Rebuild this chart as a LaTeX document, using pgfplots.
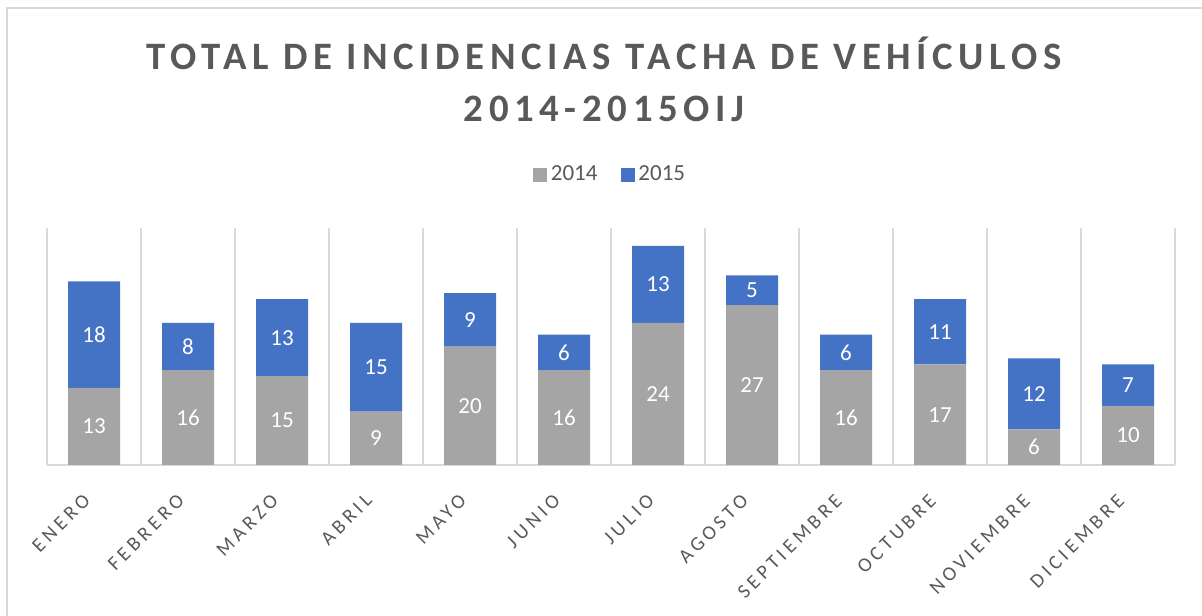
\documentclass[border=0pt]{standalone}
\usepackage{pgfplots}
\pgfplotsset{compat=1.18}
\usepackage{pgfplotstable}
\usepackage{fontspec}
\setmainfont{Carlito}
\newfontfamily\titlefont[LetterSpace=14.5]{Carlito}
\newfontfamily\lblfont[LetterSpace=20]{Carlito}
\definecolor{g14}{HTML}{A5A5A5}
\definecolor{b15}{HTML}{4472C4}
\definecolor{txt}{HTML}{595959}
\definecolor{grd}{HTML}{D9D9D9}

\pgfplotstableread{
x a b
0 13 18
1 16 8
2 15 13
3 9 15
4 20 9
5 16 6
6 24 13
7 27 5
8 16 6
9 17 11
10 6 12
11 10 7
}\data

\begin{document}
\begin{tikzpicture}
\path[use as bounding box] (0,0) rectangle (601bp,308bp);
\draw[grd, line width=1bp] (3.5bp,0) -- (3.5bp,303.75bp) -- (601bp,303.75bp);
\node[anchor=base, text=txt, inner sep=0pt, font=\titlefont\bfseries\fontsize{19.4bp}{23bp}\selectfont] at (302bp,273bp) {TOTAL DE INCIDENCIAS TACHA DE VEHÍCULOS};
\node[anchor=base, text=txt, inner sep=0pt, font=\titlefont\bfseries\fontsize{19.4bp}{23bp}\selectfont] at (302bp,247bp) {2014-2015OIJ};
\begin{axis}[
  at={(23.5bp,75.5bp)}, anchor=south west,
  scale only axis, width=564bp, height=118.5bp,
  xmin=-0.5, xmax=11.5, ymin=0, ymax=40,
  ybar stacked, bar width=26bp,
  axis x line=bottom, axis y line=none,
  axis line style={grd, line width=1bp, -},
  xtick={0,...,11},
  xticklabels={ENERO,FEBRERO,MARZO,ABRIL,MAYO,JUNIO,JULIO,AGOSTO,SEPTIEMBRE,OCTUBRE,NOVIEMBRE,DICIEMBRE},
  major tick length=0, minor tick length=0,
  minor xtick={-0.5,0.5,...,11.5},
  xminorgrids, minor grid style={grd, line width=1bp},
  xticklabel style={rotate=45, anchor=north east, font=\lblfont\fontsize{10bp}{12bp}\selectfont, text=txt, yshift=-2.1bp, xshift=-10.6bp},
  legend style={at={(0.5,1.2236)}, anchor=center, draw=none, fill=none, legend columns=2,
    font=\fontsize{11.5bp}{14bp}\selectfont, text=txt,
    /tikz/every even column/.append style={column sep=9.5bp}},
  legend image code/.code={\fill[#1] (0bp,-3.5bp) rectangle (7bp,3.5bp);},
  nodes near coords, point meta=explicit symbolic,
  every node near coord/.append style={anchor=center, text=white, font=\fontsize{11.5bp}{14bp}\selectfont},
]
\addplot+[fill=g14, draw=none] table[x=x, y=a, meta=a]{\data};
\addplot+[fill=b15, draw=none] table[x=x, y=b, meta=b]{\data};
\legend{2014,2015}
\end{axis}
\end{tikzpicture}
\end{document}
